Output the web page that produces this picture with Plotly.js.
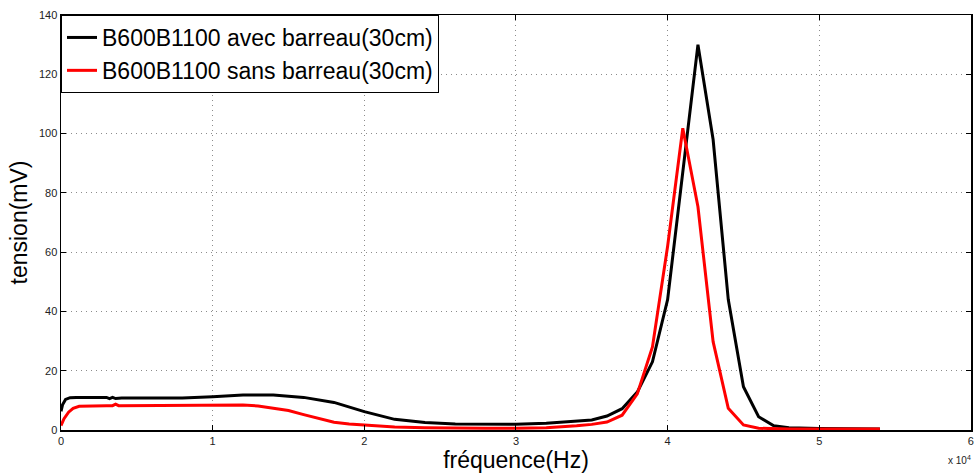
<!DOCTYPE html>
<html>
<head>
<meta charset="utf-8">
<script src="https://cdn.plot.ly/plotly-3.0.1.min.js"></script>
<style>html,body{margin:0;padding:0;background:#fff;}#chart{width:975px;height:474px;}</style>
</head>
<body>
<div id="chart"></div>
<script>
const seriesNames = ["B600B1100 avec barreau(30cm)", "B600B1100 sans barreau(30cm)"];

const freqAvec = [0, 100, 300, 600, 1000, 2000, 3000, 3200, 3400, 3600, 3800, 4000, 6000, 8000, 10000, 12000, 14000, 16000, 18000, 20000, 22000, 24000, 26000, 28000, 30000, 32000, 34000, 35000, 36000, 37000, 38000, 39000, 40000, 41000, 42000, 43000, 44000, 45000, 46000, 47000, 48000, 50000, 52000, 54000];
const tensionAvec = [6.3, 8.5, 10.3, 10.9, 11.0, 11.0, 11.0, 10.6, 11.0, 10.6, 10.8, 10.8, 10.8, 10.8, 11.2, 11.8, 11.8, 11.0, 9.3, 6.2, 3.6, 2.5, 2.0, 1.9, 1.9, 2.3, 2.9, 3.4, 4.7, 7.2, 12.8, 23, 44, 87, 130, 98, 44, 14.6, 4.5, 1.4, 0.8, 0.5, 0.4, 0.3];

const freqSans = [0, 200, 500, 800, 1200, 2000, 3000, 3400, 3600, 3800, 4000, 6000, 8000, 10000, 12000, 13000, 14000, 15000, 16000, 17000, 18000, 19000, 20000, 22000, 24000, 26000, 28000, 30000, 32000, 34000, 35000, 36000, 37000, 38000, 39000, 40000, 41000, 42000, 43000, 44000, 45000, 46000, 47000, 48000, 50000, 54000];
const tensionSans = [1.5, 3.8, 6.0, 7.3, 8.0, 8.2, 8.2, 8.2, 8.7, 8.2, 8.2, 8.2, 8.4, 8.4, 8.4, 8.1, 7.4, 6.6, 5.2, 3.8, 2.6, 2.0, 1.6, 1.0, 0.8, 0.6, 0.6, 0.6, 0.8, 1.4, 1.9, 2.7, 5.0, 12.2, 28, 62, 101.8, 75.3, 29.8, 7.3, 1.7, 0.6, 0.4, 0.3, 0.3, 0.3];

const xTickVals = [0, 10000, 20000, 30000, 40000, 50000, 60000];
const xTickText = ["0", "1", "2", "3", "4", "5", "6"];
const yTickVals = [0, 20, 40, 60, 80, 100, 120, 140];

const font = "Liberation Sans, Arial, Helvetica, sans-serif";

const traces = [
  {x: freqAvec, y: tensionAvec, name: seriesNames[0], mode: "lines", line: {color: "#000000", width: 3}},
  {x: freqSans, y: tensionSans, name: seriesNames[1], mode: "lines", line: {color: "#ff0000", width: 3}}
];

const axisCommon = {
  showline: true, linecolor: "#000", linewidth: 1.5, mirror: "ticks",
  ticks: "inside", ticklen: 5, tickwidth: 1, tickcolor: "#000",
  showgrid: true, gridcolor: "#8c8c8c", griddash: "1px,4px", gridwidth: 1,
  zeroline: false, automargin: false,
  tickfont: {family: font, size: 11, color: "#222"}
};

const layout = {
  width: 975, height: 474,
  margin: {l: 61, r: 4, t: 15, b: 44},
  paper_bgcolor: "#fff", plot_bgcolor: "#fff",
  font: {family: font},
  showlegend: true,
  legend: {x: 0, y: 1, xanchor: "left", yanchor: "top", bgcolor: "#fff", bordercolor: "#000", borderwidth: 1,
           font: {family: font, size: 23, color: "#000"}, tracegroupgap: 0, itemwidth: 30},
  xaxis: Object.assign({}, axisCommon, {
    range: [0, 60005], tickmode: "array", tickvals: xTickVals, ticktext: xTickText,
    title: {text: "fréquence(Hz)", font: {family: font, size: 23, color: "#000"}, standoff: 1}
  }),
  yaxis: Object.assign({}, axisCommon, {
    range: [0, 140], tickmode: "array", tickvals: yTickVals,
    title: {text: "tension(mV)", font: {family: font, size: 23, color: "#000"}, standoff: 5}
  }),
  annotations: [
    {xref: "paper", yref: "paper", x: 1.0, y: 0, xanchor: "right", yanchor: "top", yshift: -22, xshift: 2, showarrow: false,
     text: "x 10<sup>4</sup>", font: {family: font, size: 10, color: "#222"}}
  ]
};

Plotly.newPlot("chart", traces, layout, {displayModeBar: false, staticPlot: true});
</script>
</body>
</html>
